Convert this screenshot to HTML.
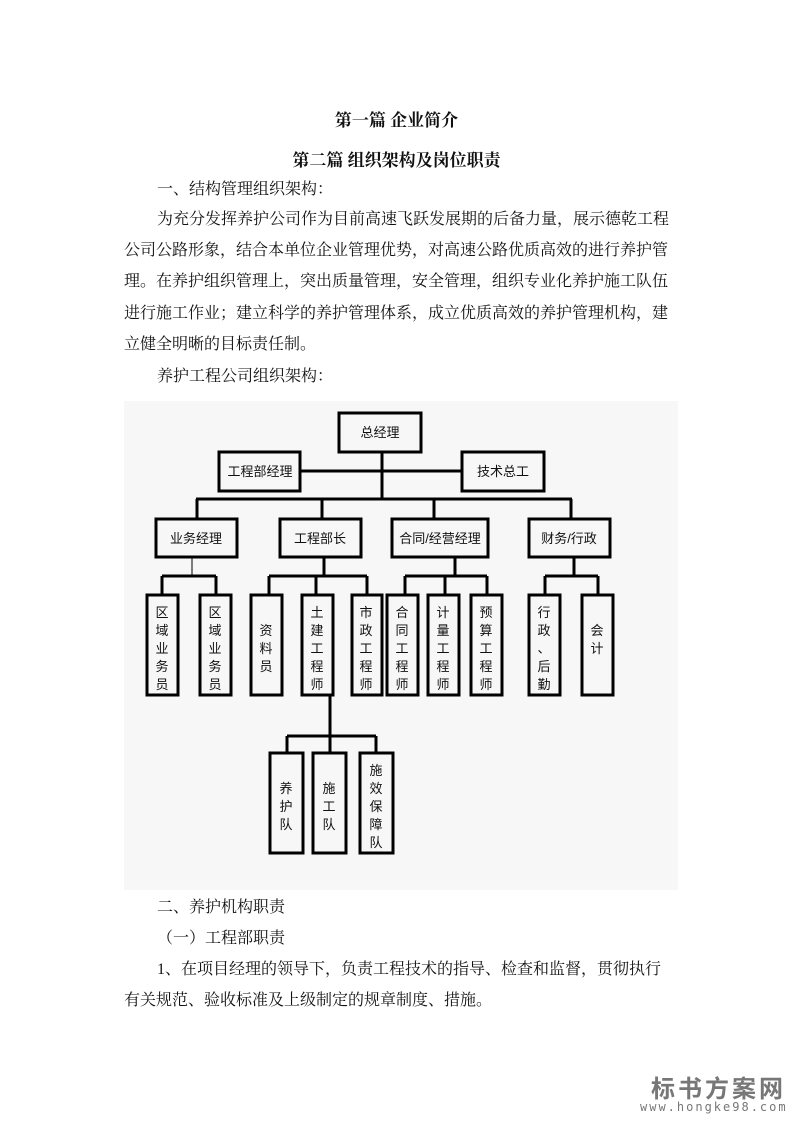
<!DOCTYPE html>
<html><head><meta charset="utf-8"><style>
body{margin:0;background:#fff;width:793px;height:1122px;position:relative;overflow:hidden;font-family:"Liberation Serif","Noto Serif CJK SC","Noto Sans CJK SC",serif;color:#111}
.t{position:absolute;font-size:16px;white-space:nowrap;line-height:20px}
.h{position:absolute;left:0;width:793px;text-align:center;font-weight:bold;font-size:17px}
svg text{font-family:"Liberation Sans","Noto Sans CJK SC",sans-serif;font-size:13px;fill:#111}
</style></head><body>
<div class="h" style="top:106px">第一篇 企业简介</div>
<div class="h" style="top:146px">第二篇 组织架构及岗位职责</div>
<div class="t" style="left:157px;top:180px">一、结构管理组织架构：</div>
<div class="t" style="left:157px;top:210px">为充分发挥养护公司作为目前高速飞跃发展期的后备力量，展示德乾工程</div>
<div class="t" style="left:124px;top:241px">公司公路形象，结合本单位企业管理优势，对高速公路优质高效的进行养护管</div>
<div class="t" style="left:124px;top:272px">理。在养护组织管理上，突出质量管理，安全管理，组织专业化养护施工队伍</div>
<div class="t" style="left:124px;top:304px">进行施工作业；建立科学的养护管理体系，成立优质高效的养护管理机构，建</div>
<div class="t" style="left:124px;top:335px">立健全明晰的目标责任制。</div>
<div class="t" style="left:157px;top:367px">养护工程公司组织架构：</div>
<svg style="position:absolute;left:0;top:0" width="793" height="1122">
<rect x="124" y="401" width="554" height="489" fill="#f7f7f7"/>
<g stroke="#000" stroke-width="3" fill="none">
<line x1="382" y1="452" x2="382" y2="499"/>
<line x1="300" y1="471" x2="462" y2="471"/>
<line x1="196" y1="499" x2="572" y2="499"/>
<line x1="197" y1="499" x2="197" y2="519"/><line x1="322" y1="499" x2="322" y2="519"/>
<line x1="434" y1="499" x2="434" y2="519"/><line x1="571" y1="499" x2="571" y2="519"/>
<line x1="162" y1="576" x2="216" y2="576"/><line x1="162" y1="576" x2="162" y2="595"/><line x1="216" y1="576" x2="216" y2="595"/>
<line x1="324" y1="557" x2="324" y2="576"/><line x1="269" y1="576" x2="367" y2="576"/>
<line x1="269" y1="576" x2="269" y2="595"/><line x1="316" y1="576" x2="316" y2="595"/><line x1="367" y1="576" x2="367" y2="595"/>
<line x1="455" y1="557" x2="455" y2="576"/><line x1="405" y1="576" x2="487" y2="576"/>
<line x1="405" y1="576" x2="405" y2="595"/><line x1="445" y1="576" x2="445" y2="595"/><line x1="487" y1="576" x2="487" y2="595"/>
<line x1="574" y1="557" x2="574" y2="576"/><line x1="545" y1="576" x2="598" y2="576"/>
<line x1="545" y1="576" x2="545" y2="595"/><line x1="598" y1="576" x2="598" y2="595"/>
<line x1="330" y1="695" x2="330" y2="736"/><line x1="287" y1="736" x2="376" y2="736"/>
<line x1="287" y1="736" x2="287" y2="753"/><line x1="330" y1="736" x2="330" y2="753"/><line x1="376" y1="736" x2="376" y2="753"/>
<rect x="339" y="413" width="82" height="39"/>
<rect x="219" y="452" width="81" height="39"/>
<rect x="462" y="452" width="82" height="39"/>
<rect x="156" y="519" width="81" height="38"/>
<rect x="280" y="519" width="81" height="38"/>
<rect x="392" y="519" width="96" height="38"/>
<rect x="529" y="519" width="81" height="38"/>
<rect x="147" y="595" width="31" height="100"/><rect x="200" y="595" width="31" height="100"/>
<rect x="251" y="595" width="31" height="100"/><rect x="302" y="595" width="31" height="100"/><rect x="352" y="595" width="30" height="100"/>
<rect x="387" y="595" width="31" height="100"/><rect x="428" y="595" width="31" height="100"/><rect x="471" y="595" width="31" height="100"/>
<rect x="529" y="595" width="31" height="100"/><rect x="582" y="595" width="31" height="100"/>
<rect x="270" y="753" width="33" height="100"/><rect x="313" y="753" width="33" height="100"/><rect x="360" y="753" width="33" height="100"/>
</g>
<g stroke="#000" stroke-width="1"><line x1="192" y1="557" x2="192" y2="576"/></g>
<text x="380" y="437" text-anchor="middle">总经理</text>
<text x="260" y="476" text-anchor="middle">工程部经理</text>
<text x="503" y="476" text-anchor="middle">技术总工</text>
<text x="196" y="543" text-anchor="middle">业务经理</text>
<text x="320" y="543" text-anchor="middle">工程部长</text>
<text x="440" y="543" text-anchor="middle">合同/经营经理</text>
<text x="569" y="543" text-anchor="middle">财务/行政</text>
<g text-anchor="middle">
<text x="162" y="617">区</text><text x="162" y="635">域</text><text x="162" y="653">业</text><text x="162" y="671">务</text><text x="162" y="689">员</text>
<text x="215" y="617">区</text><text x="215" y="635">域</text><text x="215" y="653">业</text><text x="215" y="671">务</text><text x="215" y="689">员</text>
<text x="266" y="635">资</text><text x="266" y="653">料</text><text x="266" y="671">员</text>
<text x="317" y="617">土</text><text x="317" y="635">建</text><text x="317" y="653">工</text><text x="317" y="671">程</text><text x="317" y="689">师</text>
<text x="366" y="617">市</text><text x="366" y="635">政</text><text x="366" y="653">工</text><text x="366" y="671">程</text><text x="366" y="689">师</text>
<text x="402" y="617">合</text><text x="402" y="635">同</text><text x="402" y="653">工</text><text x="402" y="671">程</text><text x="402" y="689">师</text>
<text x="443" y="617">计</text><text x="443" y="635">量</text><text x="443" y="653">工</text><text x="443" y="671">程</text><text x="443" y="689">师</text>
<text x="486" y="617">预</text><text x="486" y="635">算</text><text x="486" y="653">工</text><text x="486" y="671">程</text><text x="486" y="689">师</text>
<text x="544" y="617">行</text><text x="544" y="635">政</text><text x="544" y="653">、</text><text x="544" y="671">后</text><text x="544" y="689">勤</text>
<text x="597" y="635">会</text><text x="597" y="653">计</text>
<text x="286" y="793">养</text><text x="286" y="811">护</text><text x="286" y="829">队</text>
<text x="329" y="793">施</text><text x="329" y="811">工</text><text x="329" y="829">队</text>
<text x="376" y="775">施</text><text x="376" y="793">效</text><text x="376" y="811">保</text><text x="376" y="829">障</text><text x="376" y="847">队</text>
</g>
</svg>
<div class="t" style="left:157px;top:898px">二、养护机构职责</div>
<div class="t" style="left:157px;top:929px">（一）工程部职责</div>
<div class="t" style="left:157px;top:960px">1、在项目经理的领导下，负责工程技术的指导、检查和监督，贯彻执行</div>
<div class="t" style="left:124px;top:991px">有关规范、验收标准及上级制定的规章制度、措施。</div>
<div style="position:absolute;left:651px;top:1069px;font-size:24px;font-weight:bold;color:#777;letter-spacing:3px;font-family:'Noto Sans CJK SC',sans-serif">标书方案网</div>
<div style="position:absolute;left:640px;top:1100px;font-size:12px;color:#777;letter-spacing:2px;font-family:'DejaVu Sans Mono',monospace">www.hongke98.com</div>
</body></html>
